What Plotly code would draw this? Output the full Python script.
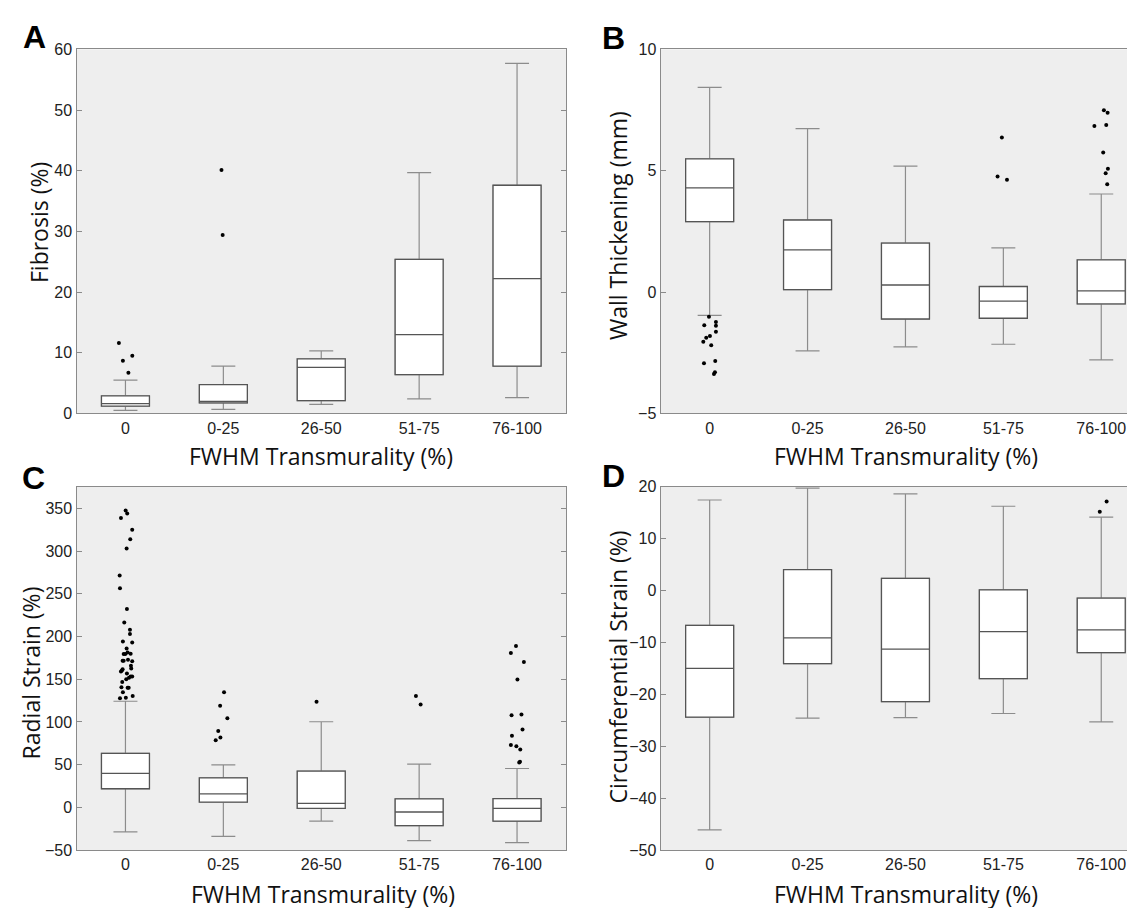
import plotly.graph_objects as go

categories = ["0", "0-25", "26-50", "51-75", "76-100"]
positions = [0, 1, 2, 3, 4]

# Panel A: Fibrosis (%)
fib_lo = [0.5, 0.65, 1.5, 2.4, 2.6]
fib_q1 = [1.2, 1.75, 2.1, 6.4, 7.8]
fib_med = [1.6, 2.0, 7.6, 13.0, 22.2]
fib_q3 = [2.9, 4.75, 9.0, 25.4, 37.6]
fib_hi = [5.5, 7.8, 10.3, 39.7, 57.7]
fib_out_cat = [0, 0, 0, 0, 1, 1]
fib_out_y = [11.6, 8.7, 9.5, 6.7, 40.1, 29.4]
fib_out_dx = [-0.067, -0.026, 0.07, 0.03, -0.019, -0.007]

# Panel B: Wall Thickening (mm)
wt_lo = [-0.96, -2.42, -2.26, -2.15, -2.79]
wt_q1 = [2.90, 0.10, -1.11, -1.08, -0.49]
wt_med = [4.29, 1.74, 0.29, -0.37, 0.05]
wt_q3 = [5.49, 2.97, 2.02, 0.23, 1.33]
wt_hi = [8.43, 6.73, 5.19, 1.82, 4.04]
wt_out_cat = [0] * 13 + [3] * 3 + [4] * 8
wt_out_y = [-1.02, -1.37, -1.23, -1.39, -1.64, -1.81, -1.88, -2.05, -2.19, -2.93, -2.84, -3.30, -3.38,
            6.37, 4.76, 4.63,
            7.49, 7.39, 6.84, 6.88, 5.75, 5.08, 4.90, 4.44]
wt_out_dx = [-0.007, -0.055, 0.064, 0.064, 0.064, 0.003, -0.035, -0.065, 0.016, -0.058, 0.057, 0.054, 0.044,
             -0.015, -0.059, 0.037,
             0.027, 0.065, -0.07, 0.051, 0.02, 0.068, 0.045, 0.061]

# Panel C: Radial Strain (%)
rs_lo = [-28.7, -34.0, -16.0, -39.0, -41.3]
rs_q1 = [21.8, 6.1, -1.1, -21.4, -16.0]
rs_med = [39.8, 15.7, 4.6, -5.4, -1.1]
rs_q3 = [63.1, 34.4, 42.4, 9.9, 10.3]
rs_hi = [124.2, 49.7, 100.2, 50.5, 45.5]
rs_out0_y = [347.5, 344.0, 338.6, 324.9, 313.8, 303.1, 271.3, 256.4, 232.3, 216.3, 207.9, 203.0,
             194.2, 193.0, 185.8, 179.6, 179.6, 181.2, 179.9, 171.6, 171.6, 172.7, 170.9, 165.8,
             162.4, 161.5, 160.2, 158.9, 156.7, 153.2, 153.2, 151.7, 149.8, 146.8,
             140.7, 139.9, 139.9, 134.6, 130.4, 127.7, 128.4]
rs_out0_dx = [0.002, 0.018, -0.046, 0.069, 0.049, 0.012, -0.059, -0.056, 0.015, -0.012, 0.046, 0.046,
              -0.026, 0.069, 0.012, -0.018, -0.002, 0.022, 0.053, -0.029, -0.018, 0.026, 0.069, 0.056,
              0.059, -0.029, -0.036, -0.046, 0.015, 0.069, 0.053, 0.036, 0.008, -0.033,
              -0.041, 0.022, 0.033, -0.026, 0.074, -0.056, 0.004]
rs_outx_cat = [1] * 6 + [2] + [3] * 2 + [4] * 13
rs_outx_y = [134.6, 118.9, 104.4, 89.4, 81.8, 78.4,
             123.5,
             130.4, 120.4,
             188.8, 180.8, 170.1, 149.5, 108.6, 107.8, 83.7, 91.0, 73.0, 71.5, 67.7, 53.5, 52.4]
rs_outx_dx = [0.007, -0.033, 0.041, -0.052, -0.03, -0.078,
              -0.048,
              -0.033, 0.015,
              -0.011, -0.063, 0.07, 0.004, 0.045, -0.056, -0.052, 0.056, -0.063, -0.007, 0.033, 0.03, 0.022]

# Panel D: Circumferential Strain (%)
cs_lo = [-46.1, -24.6, -24.5, -23.7, -25.3]
cs_q1 = [-24.4, -14.1, -21.4, -17.0, -12.0]
cs_med = [-15.0, -9.15, -11.3, -7.95, -7.6]
cs_q3 = [-6.75, 4.0, 2.3, 0.1, -1.5]
cs_hi = [17.4, 19.7, 18.6, 16.2, 14.1]
cs_out_cat = [4, 4]
cs_out_y = [15.15, 17.1]
cs_out_dx = [-0.015, 0.055]

W, H = 1135, 908
BOX_LINE = "#555555"
WHISKER_LINE = "#8c8c8c"
FRAME = "#8a8a8a"
BG = "#eeeeee"
TICK_FONT = dict(family="Liberation Sans, Arial, sans-serif", size=16, color="#222222")
TITLE_FONT = dict(family="Open Sans, sans-serif", size=23, color="#111111")
LETTER_FONT = dict(family="Liberation Sans, Arial, sans-serif", size=32, color="#000000")

fig = go.Figure()


def add_panel(n, lo, q1, med, q3, hi, out_cat, out_y, out_dx):
    xa = "x" if n == 1 else f"x{n}"
    ya = "y" if n == 1 else f"y{n}"
    # whiskers (lighter gray)
    fig.add_trace(go.Box(
        x=positions, q1=q1, median=med, q3=q3, lowerfence=lo, upperfence=hi,
        width=0.49, whiskerwidth=0.5, boxpoints=False,
        fillcolor="white", line=dict(color=WHISKER_LINE, width=1.2),
        xaxis=xa, yaxis=ya, showlegend=False, hoverinfo="skip"))
    # box body and median (darker gray) drawn on top
    fig.add_trace(go.Box(
        x=positions, q1=q1, median=med, q3=q3, lowerfence=q1, upperfence=q3,
        width=0.49, whiskerwidth=0, boxpoints=False,
        fillcolor="white", line=dict(color=BOX_LINE, width=1.3),
        xaxis=xa, yaxis=ya, showlegend=False, hoverinfo="skip"))
    xs = [positions[c] + d for c, d in zip(out_cat, out_dx)]
    fig.add_trace(go.Scatter(
        x=xs, y=out_y, mode="markers",
        marker=dict(color="black", size=4, line=dict(width=0)),
        xaxis=xa, yaxis=ya, showlegend=False, hoverinfo="skip"))


add_panel(1, fib_lo, fib_q1, fib_med, fib_q3, fib_hi, fib_out_cat, fib_out_y, fib_out_dx)
add_panel(2, wt_lo, wt_q1, wt_med, wt_q3, wt_hi, wt_out_cat, wt_out_y, wt_out_dx)
add_panel(3, rs_lo, rs_q1, rs_med, rs_q3, rs_hi,
          [0] * len(rs_out0_y) + rs_outx_cat, rs_out0_y + rs_outx_y, rs_out0_dx + rs_outx_dx)
add_panel(4, cs_lo, cs_q1, cs_med, cs_q3, cs_hi, cs_out_cat, cs_out_y, cs_out_dx)

# pixel geometry of the panels
left_x0, left_x1 = 68.5, 558.0
right_x0 = 652.7
px_per_cat = (left_x1 - left_x0) / 5.0
right_range_max = -0.5 + (W - right_x0) / px_per_cat
top_y0, top_y1 = 34.0, 405.0
bot_y0, bot_y1 = 479.5, 850.0


def xdom(a, b):
    return [a / W, b / W]


def ydom(top, bottom):
    return [1 - bottom / H, 1 - top / H]


def xaxis(domain, anchor, rmax):
    return dict(domain=domain, anchor=anchor, range=[-0.5, rmax],
                tickmode="array", tickvals=positions, ticktext=categories,
                ticks="", showgrid=False, zeroline=False,
                showline=True, linecolor=FRAME, linewidth=1.3, mirror=True,
                tickfont=TICK_FONT, fixedrange=True)


def yaxis(domain, anchor, rng, tickvals, mirror):
    return dict(domain=domain, anchor=anchor, range=rng,
                tickmode="array", tickvals=tickvals,
                ticks="inside", ticklen=5, tickcolor=FRAME, tickwidth=1,
                showgrid=False, zeroline=False,
                showline=True, linecolor=FRAME, linewidth=1.3, mirror=mirror,
                tickfont=TICK_FONT, fixedrange=True)


fig.update_layout(
    width=W, height=H,
    margin=dict(l=0, r=0, t=0, b=0),
    paper_bgcolor="white", plot_bgcolor=BG,
    xaxis=xaxis(xdom(left_x0, left_x1), "y", 4.5),
    yaxis=yaxis(ydom(top_y0, top_y1), "x", [0, 60], [0, 10, 20, 30, 40, 50, 60], "ticks"),
    xaxis2=xaxis(xdom(right_x0, W), "y2", right_range_max),
    yaxis2=yaxis(ydom(top_y0, top_y1), "x2", [-5, 10], [-5, 0, 5, 10], False),
    xaxis3=xaxis(xdom(left_x0, left_x1), "y3", 4.5),
    yaxis3=yaxis(ydom(bot_y0, bot_y1), "x3", [-50, 375.5],
                 [-50, 0, 50, 100, 150, 200, 250, 300, 350], "ticks"),
    xaxis4=xaxis(xdom(right_x0, W), "y4", right_range_max),
    yaxis4=yaxis(ydom(bot_y0, bot_y1), "x4", [-50, 20],
                 [-50, -40, -30, -20, -10, 0, 10, 20], False),
)

annotations = []


def ann(text, x, y, font, angle=0):
    annotations.append(dict(text=text, x=x / W, y=1 - y / H, xref="paper", yref="paper",
                            xanchor="center", yanchor="middle", showarrow=False,
                            font=font, textangle=angle))


xt = "FWHM Transmurality (%)"
ann(xt, 313, 448, TITLE_FONT)
ann(xt, 898, 448, TITLE_FONT)
ann(xt, 315, 895, TITLE_FONT)
ann(xt, 898, 895, TITLE_FONT)
ann("Fibrosis (%)", 31, 211, TITLE_FONT, -90)
ann("Wall Thickening (mm)", 610, 214, TITLE_FONT, -90)
ann("Radial Strain (%)", 23, 670, TITLE_FONT, -90)
ann("Circumferential Strain (%)", 610, 664, TITLE_FONT, -90)
ann("<b>A</b>", 26, 21, LETTER_FONT)
ann("<b>B</b>", 605, 22, LETTER_FONT)
ann("<b>C</b>", 25, 471, LETTER_FONT)
ann("<b>D</b>", 605, 469, LETTER_FONT)
fig.update_layout(annotations=annotations)

fig.write_html("out.html", config={"displayModeBar": False})
